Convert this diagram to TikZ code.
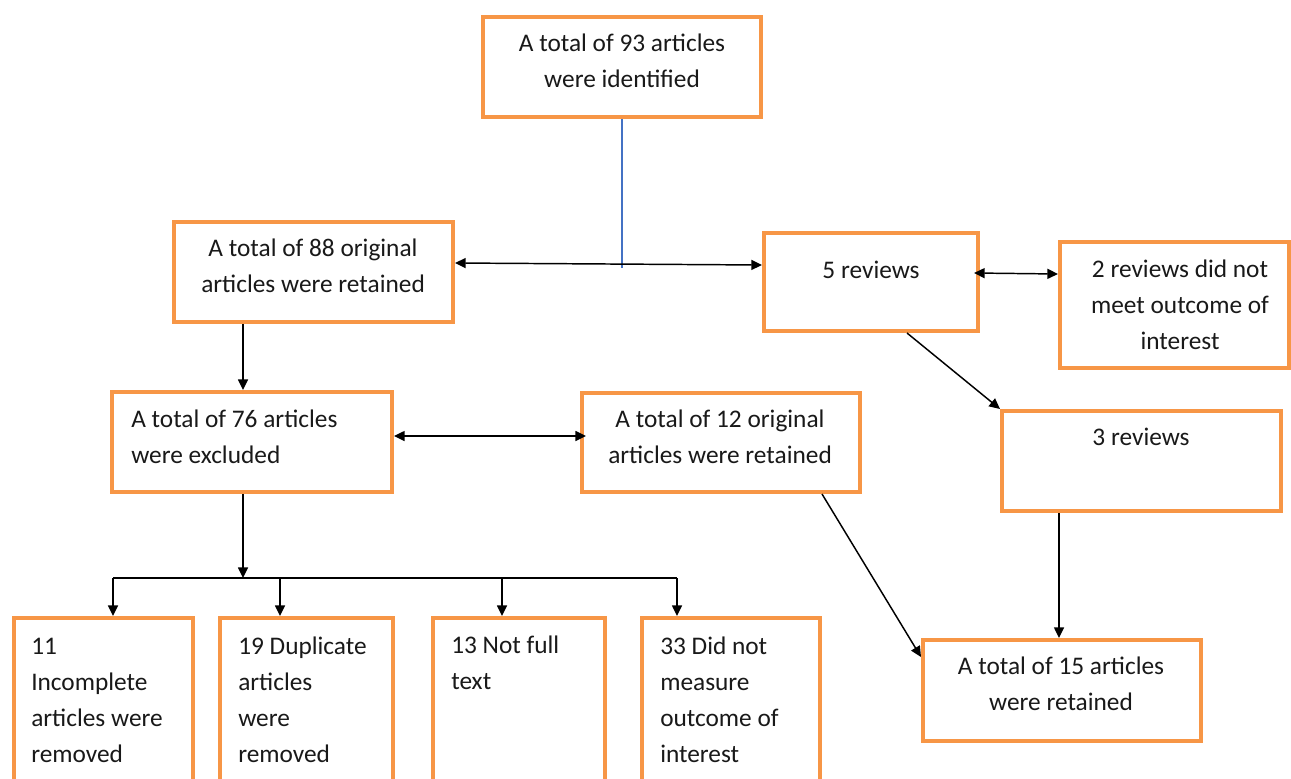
\documentclass[tikz,border=0pt]{standalone}
\usepackage{fontspec}
\setmainfont{Carlito}
\usetikzlibrary{arrows.meta,fit,calc}
\definecolor{boxorange}{HTML}{F79646}
\definecolor{lineblue}{HTML}{4472C4}
\tikzset{
  box/.style={draw=boxorange, line width=3pt, inner sep=0pt, fill=white},
  txt/.style={inner sep=0pt, font=\fontsize{19}{27}\selectfont, text=black!90},
  conn/.style={draw=black, line width=1.1pt},
  arr/.style={conn, -{Triangle[length=8pt,width=7.5pt]}},
  dbl/.style={conn, {Triangle[length=8pt,width=7.5pt]}-{Triangle[length=8pt,width=7.5pt]}},
}
\begin{document}
\begin{tikzpicture}[x=0.75pt,y=-0.75pt]
\useasboundingbox (0,0) rectangle (1291,778);
\clip (0,0) rectangle (1291,778);
% boxes
\node[box, fit={(483,17) (761,117)}] (top) {};
\node[box, fit={(174,222) (453,322)}] (n88) {};
\node[box, fit={(764,233) (978,331)}] (rev5) {};
\node[box, fit={(1060,242) (1289,368)}] (rev2) {};
\node[box, fit={(112,392) (392,492)}] (n76) {};
\node[box, fit={(582,393) (860,492)}] (n12) {};
\node[box, fit={(1002,411) (1281,511)}] (rev3) {};
\node[box, fit={(923,640) (1201,741)}] (n15) {};
\node[box, fit={(14,618) (193,800)}] (b11) {};
\node[box, fit={(220,618) (393,800)}] (b19) {};
\node[box, fit={(433,618) (605,800)}] (b13) {};
\node[box, fit={(642,618) (820,800)}] (b33) {};
% texts
\node[txt, align=center] (ttop) at (622,61) {A total of 93 articles\\were identified};
\node[txt, align=center] (t88) at (313,266) {A total of 88 original\\articles were retained};
\node[txt] (t5) at (871,270) {5 reviews};
\node[txt, align=center] (t2) at (1180,305) {2 reviews did not\\meet outcome of\\interest};
\node[txt, align=left, anchor=west] (t76) at (131,437) {A total of 76 articles\\were excluded};
\node[txt, align=center] (t12) at (720,437) {A total of 12 original\\articles were retained};
\node[txt] (t3) at (1141,437) {3 reviews};
\node[txt, align=center] (t15) at (1061,684) {A total of 15 articles\\were retained};
\node[txt, align=left, anchor=west] (t11) at (31,700) {11\\Incomplete\\articles were\\removed};
\node[txt, align=left, anchor=west] (t19) at (238,700) {19 Duplicate\\articles\\were\\removed};
\node[txt, align=left, anchor=west] (t13) at (451,663) {13 Not full\\text};
\node[txt, align=left, anchor=west] (t33) at (660,700) {33 Did not\\measure\\outcome of\\interest};
% connectors
\coordinate (j) at (622,268);
\draw[draw=lineblue, line width=0.8pt] (top.south) -- (j);
\draw[dbl] (n88.east |- 0,263) -- (rev5.west |- 0,265);
\draw[dbl] ($(rev5.east)+(-6,-9)$) -- (rev2.west |- 0,274);
\draw[arr] (rev5.south -| 907,0) -- (rev3.north west);
\draw[arr] (n88.south -| 243,0) -- (n76.north -| 243,0);
\draw[dbl] (n76.east |- 0,436) -- ($(n12.west |- 0,436)+(6,0)$);
\coordinate (split) at (243,578);
\coordinate (hl) at (113,578);
\coordinate (hr) at (677,578);
\draw[arr] (n76.south -| 243,0) -- (split);
\draw[conn] (hl) -- (hr);
\draw[arr] (hl) -- (b11.north -| hl);
\draw[arr] (280,578) -- (b19.north -| 280,0);
\draw[arr] (502,578) -- (b13.north -| 502,0);
\draw[arr] (hr) -- (b33.north -| hr);
\draw[arr] (n12.south -| 822,0) -- (n15.west |- 0,657);
\draw[arr] (rev3.south -| 1059,0) -- (n15.north -| 1059,0);
\end{tikzpicture}
\end{document}
